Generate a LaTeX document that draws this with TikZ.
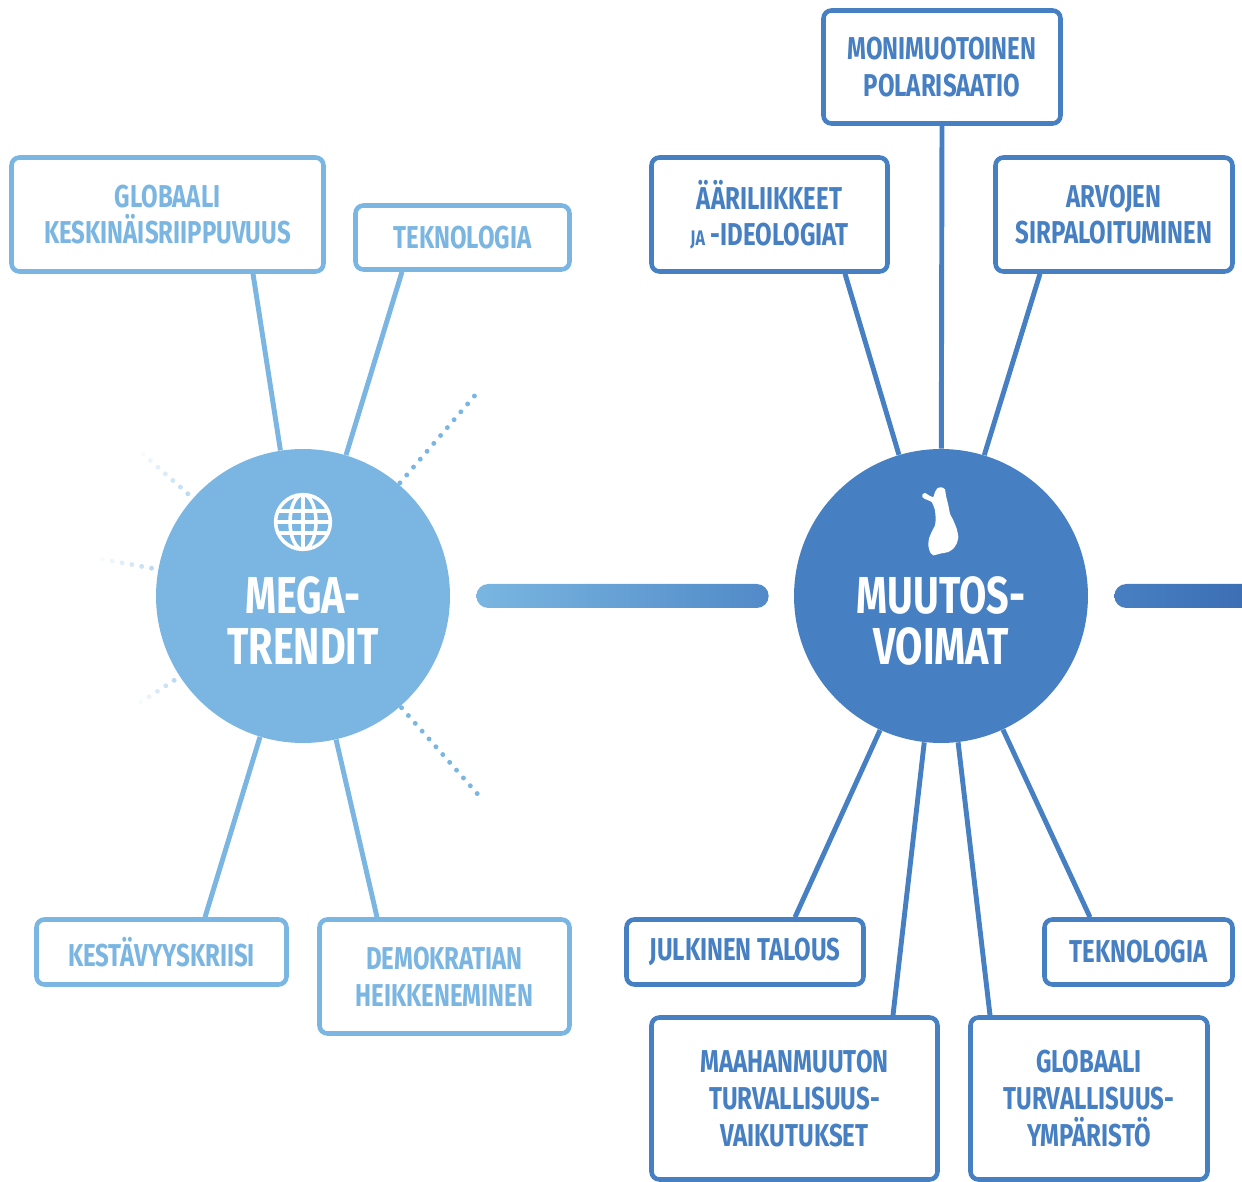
\documentclass[tikz,border=0pt]{standalone}
\usepackage{fontspec}
\setmainfont{Fira Sans}
\newfontfamily\condfont{Fira Sans}[FakeStretch=0.76]
\usetikzlibrary{calc}
\definecolor{mlight}{RGB}{122,182,225}
\definecolor{mdark}{RGB}{71,128,194}
\definecolor{barmid}{RGB}{112,172,222}
\definecolor{barend}{RGB}{81,138,200}
\definecolor{bardeep}{RGB}{59,108,178}
\tikzset{
    lbox/.style={draw=mlight,text=mlight,fill=white,line width=2.6pt,rounded corners=4.5pt,
        inner sep=0pt,align=center,font=\condfont\bfseries\fontsize{18}{20.8}\selectfont},
    dbox/.style={lbox,draw=mdark,text=mdark},
    llink/.style={mlight,line width=2.8pt},
    dlink/.style={mdark,line width=2.8pt},
    hub/.style={circle,inner sep=0pt,minimum size=5.88cm},
    hubtxt/.style={white,align=center,font=\condfont\bfseries\fontsize{29.6}{29}\selectfont},
    icon/.style={white,line width=2pt}
}

\begin{document}
\begin{tikzpicture}[x=0.02cm,y=-0.02cm]
            \useasboundingbox (0,0) rectangle (1242,1182);
            \clip (0,0) rectangle (1242,1182);
            \node [hub,fill=mlight] (mega) at (303,596) {};
            \node [hub,fill=mdark] (muutos) at (941,596) {};
            \coordinate (offright) at (1262,608);
            \shade [left color=mlight,middle color=barmid,right color=barend,rounded corners=6.8pt]
                ($(mega.east)+(26,-12)$) rectangle ($(muutos.west)+(-25,12)$);
            \shade [left color=mdark,right color=bardeep,rounded corners=6.8pt]
                ($(muutos.east)+(26,-12)$) rectangle (offright);
            \foreach \a in {-49.4,48.6} {
                \foreach \i in {0,...,11} {
                    \fill [mlight] ($(mega.center)+(\a:149+10.4*\i)$) circle [radius=1.4pt];
                }
            }
            \foreach \a/\k in {221.6/6,190.4/5,146.8/4} {
                \foreach \i in {0,...,\k} {
                    \pgfmathsetmacro\op{0.5-0.45*\i/\k}
                    \fill [mlight,opacity=\op] ($(mega.center)+(\a:154+10*\i)$) circle [radius=1.4pt];
                }
            }
            \node [lbox,minimum width=6.24cm,minimum height=2.28cm] (gk) at (167.5,214.5) {GLOBAALI\\KESKINÄISRIIPPUVUUS};
            \node [lbox,minimum width=4.28cm,minimum height=1.28cm] (tek) at (462.5,237.5) {TEKNOLOGIA};
            \node [lbox,minimum width=5cm,minimum height=1.3cm] (kest) at (161.5,952) {KESTÄVYYSKRIISI};
            \node [lbox,minimum width=5cm,minimum height=2.28cm] (demo) at (444.5,976.5) {DEMOKRATIAN\\HEIKKENEMINEN};
            \node [dbox,minimum width=4.74cm,minimum height=2.26cm] (pol) at (942,67) {MONIMUOTOINEN\\POLARISAATIO};
            \node [dbox,minimum width=4.72cm,minimum height=2.28cm] (aari) at (769.5,214.5) {ÄÄRILIIKKEET\\{\fontsize{12}{12}\selectfont JA} -IDEOLOGIAT};
            \node [dbox,minimum width=4.74cm,minimum height=2.28cm] (arvo) at (1114,214.5) {ARVOJEN\\SIRPALOITUMINEN};
            \node [dbox,minimum width=4.74cm,minimum height=1.3cm] (julk) at (745,952) {JULKINEN TALOUS};
            \node [dbox,minimum width=3.76cm,minimum height=1.3cm] (tekr) at (1138.5,952) {TEKNOLOGIA};
            \node [dbox,minimum width=5.72cm,minimum height=3.24cm] (maah) at (794.5,1098.5) {MAAHANMUUTON\\TURVALLISUUS-\\VAIKUTUKSET};
            \node [dbox,minimum width=4.74cm,minimum height=3.24cm] (glot) at (1089,1098.5) {GLOBAALI\\TURVALLISUUS-\\YMPÄRISTÖ};
            \draw [llink] ($(gk.south)+(85.5,0)$) -- (mega);
            \draw [llink] ($(tek.south)+(-60.5,0)$) -- (mega);
            \draw [llink] ($(kest.north)+(43.5,0)$) -- (mega);
            \draw [llink] ($(demo.north)+(-67.5,0)$) -- (mega);
            \draw [dlink] (pol.south) -- (muutos);
            \draw [dlink] ($(aari.south)+(75.5,0)$) -- (muutos);
            \draw [dlink] ($(arvo.south)+(-74,0)$) -- (muutos);
            \draw [dlink] ($(julk.north)+(50,0)$) -- (muutos);
            \draw [dlink] ($(tekr.north)+(-48.5,0)$) -- (muutos);
            \draw [dlink] ($(maah.north)+(98.5,0)$) -- (muutos);
            \draw [dlink] ($(glot.north)+(-99,0)$) -- (muutos);
            \node [hubtxt] (megatxt) at (303,621) {MEGA-\\TRENDIT};
            \node [hubtxt] (muutostxt) at (941,621) {MUUTOS-\\VOIMAT};
            \coordinate (globe) at (303,522);
            \begin{scope}
                \clip (globe) circle [radius=15.6pt];
                \foreach \dy in {-11,0,11} {
                    \draw [icon] ($(globe)+(-30,\dy)$) -- ($(globe)+(30,\dy)$);
                }
            \end{scope}
            \draw [icon] (globe) circle [radius=15.6pt]
                (globe) ellipse [x radius=7.4pt,y radius=15.6pt]
                ($(globe)+(0,-28)$) -- ($(globe)+(0,28)$);
            \begin{scope}[shift={(915,482)},x=0.02cm/3,y=-0.02cm/3]
                \fill [white] plot [smooth cycle,tension=0.3] coordinates {
                    (22,38) (30,33) (45,42) (55,45) (60,30) (68,18) (80,16) (90,22)
                    (92,35) (95,50) (100,70) (105,95) (115,115) (125,140) (130,165)
                    (125,185) (115,200) (100,210) (75,215) (55,220) (45,210) (40,190)
                    (42,170) (50,150) (60,130) (62,110) (60,85) (55,70) (50,60)
                    (40,55) (28,50) (22,45)
                };
            \end{scope}
        \end{tikzpicture}
\end{document}
